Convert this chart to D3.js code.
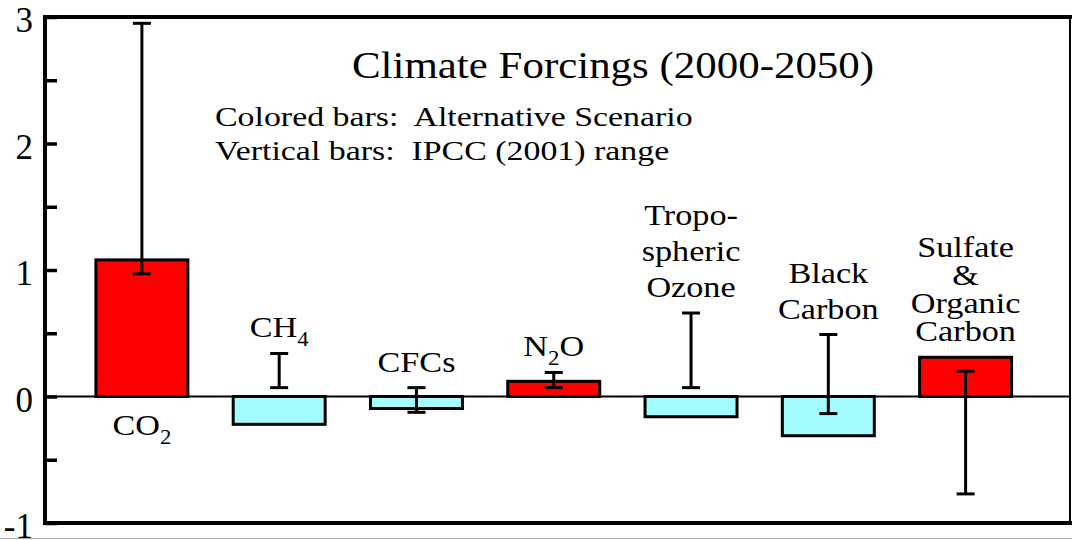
<!DOCTYPE html>
<html>
<head>
<meta charset="utf-8">
<script src="https://cdn.jsdelivr.net/npm/d3@7"></script>
<style>
  body { margin: 0; background: #fff; }
  svg { display: block; }
  text { font-family: "Liberation Serif", "Times New Roman", serif; fill: #000; }
</style>
</head>
<body>
<svg id="chart" width="1072" height="540"></svg>
<script>
// forcing values (W/m2)
var categories = ["CO2", "CH4", "CFCs", "N2O", "Tropospheric Ozone", "Black Carbon", "Sulfate & Organic Carbon"];
var scenario = [1.08, -0.22, -0.095, 0.12, -0.16, -0.31, 0.31];   // colored bars: alternative scenario
var ipccLow  = [0.97, 0.07, -0.125, 0.07, 0.07, -0.135, -0.77];  // vertical bars: IPCC (2001) range
var ipccHigh = [2.95, 0.34, 0.07, 0.19, 0.66, 0.49, 0.2];
// "_n" marks a subscript
var labels = [["CO_2"], ["CH_4"], ["CFCs"], ["N_2O"], ["Tropo-", "spheric", "Ozone"], ["Black", "Carbon"], ["Sulfate", "&", "Organic", "Carbon"]];
var yTicks = [-1, -0.5, 0, 0.5, 1, 1.5, 2, 2.5, 3];
var title = "Climate Forcings (2000-2050)";
var notes = ["Colored bars:  Alternative Scenario", "Vertical bars:  IPCC (2001) range"];

var data = categories.map(function(c, i) {
  return {name: c, value: scenario[i], low: ipccLow[i], high: ipccHigh[i], lines: labels[i]};
});

var svg = d3.select("#chart");
var W = 1072, H = 540;
var plotL = 45, plotR = 1070, plotT = 17, plotB = 523;

var y = d3.scaleLinear().domain([-1, 3]).range([plotB, plotT]);
var x = d3.scaleBand().domain(categories).range([73.25, 1034.25])
  .paddingInner(0.33).paddingOuter(0.165);

svg.append("rect").attr("width", W).attr("height", H).attr("fill", "#fff");

// zero line
svg.append("line")
  .attr("x1", plotL).attr("x2", plotR)
  .attr("y1", y(0)).attr("y2", y(0))
  .attr("stroke", "#000").attr("stroke-width", 2);

// bars
svg.selectAll("rect.bar")
  .data(data)
  .enter().append("rect")
  .classed("bar", true)
  .attr("x", d => x(d.name))
  .attr("width", x.bandwidth())
  .attr("y", d => y(Math.max(d.value, 0)))
  .attr("height", d => Math.abs(y(d.value) - y(0)))
  .attr("fill", d => d.value > 0 ? "#ff0000" : "#a3fbfd")
  .attr("stroke", "#000")
  .attr("stroke-width", 3);

// IPCC range bars
var cx = d => x(d.name) + x.bandwidth() / 2;
var err = svg.selectAll("g.err").data(data).enter().append("g").classed("err", true)
  .attr("stroke", "#000").attr("stroke-width", 3);
err.append("line")
  .attr("x1", cx).attr("x2", cx)
  .attr("y1", d => y(d.low)).attr("y2", d => y(d.high));
err.append("line")
  .attr("x1", d => cx(d) - 9).attr("x2", d => cx(d) + 9)
  .attr("y1", d => y(d.high)).attr("y2", d => y(d.high));
err.append("line")
  .attr("x1", d => cx(d) - 9).attr("x2", d => cx(d) + 9)
  .attr("y1", d => y(d.low)).attr("y2", d => y(d.low));

// y axis, ticks pointing inward
var yAxis = d3.axisLeft(y)
  .tickValues(yTicks)
  .tickSizeInner(-12).tickSizeOuter(0).tickPadding(12)
  .tickFormat(d => Number.isInteger(d) ? String(d) : "");
var ag = svg.append("g").attr("transform", "translate(" + plotL + ",0)").call(yAxis);
ag.select(".domain").remove();
ag.selectAll(".tick line").attr("stroke", "#000").attr("stroke-width", 3.5);
ag.selectAll(".tick text")
  .attr("font-family", "Liberation Serif, Times New Roman, serif")
  .attr("font-size", 35).attr("dy", "0.42em").attr("fill", "#000");

// frame
var frame = svg.append("g").attr("stroke", "#000");
frame.append("line").attr("x1", plotL).attr("x2", plotL).attr("y1", plotT - 2).attr("y2", plotB + 2).attr("stroke-width", 4);
frame.append("line").attr("x1", plotL - 2).attr("x2", W).attr("y1", plotT).attr("y2", plotT).attr("stroke-width", 4);
frame.append("line").attr("x1", plotL - 2).attr("x2", W).attr("y1", plotB).attr("y2", plotB).attr("stroke-width", 4);
frame.append("line").attr("x1", plotR).attr("x2", plotR).attr("y1", plotT).attr("y2", plotB).attr("stroke-width", 2);
svg.append("line").attr("x1", 0).attr("x2", W).attr("y1", 538.5).attr("y2", 538.5)
  .attr("stroke", "#aaa").attr("stroke-width", 1);

// text helper: horizontally stretched like the original scan
function stretched(px, py, sx, size, anchor) {
  return svg.append("g")
    .attr("transform", "translate(" + px + "," + py + ") scale(" + sx + ",1)")
    .append("text")
    .attr("font-size", size)
    .attr("text-anchor", anchor)
    .style("white-space", "pre");
}

function fillLine(t, line) {
  var parts = line.split(/_(\d)/);
  parts.forEach(function(p, i) {
    if (p === "") return;
    var ts = t.append("tspan").text(p);
    if (i % 2 === 1) ts.attr("font-size", 20).attr("dy", 9);
    else if (i > 0) ts.attr("dy", -9);
  });
}

stretched(613, 78, 1.13, 38, "middle").text(title);
notes.forEach(function(n, i) {
  stretched(215, 126 + i * 34, 1.21, 28, "start").text(n);
});

// category labels: above the bar / range, or under the zero line when the range is tall
data.forEach(function(d) {
  var topVal = Math.max(d.high, d.value, 0);
  var lh = d.lines.length > 3 ? 28 : 36;
  var n = d.lines.length;
  d.lines.forEach(function(line, i) {
    var by;
    if (y(topVal) < 150) by = y(0) + 38 + i * lh;
    else by = y(topVal) - 16 - (n - 1 - i) * lh;
    fillLine(stretched(cx(d), by, 1.14, 30, "middle"), line);
  });
});
</script>
</body>
</html>
